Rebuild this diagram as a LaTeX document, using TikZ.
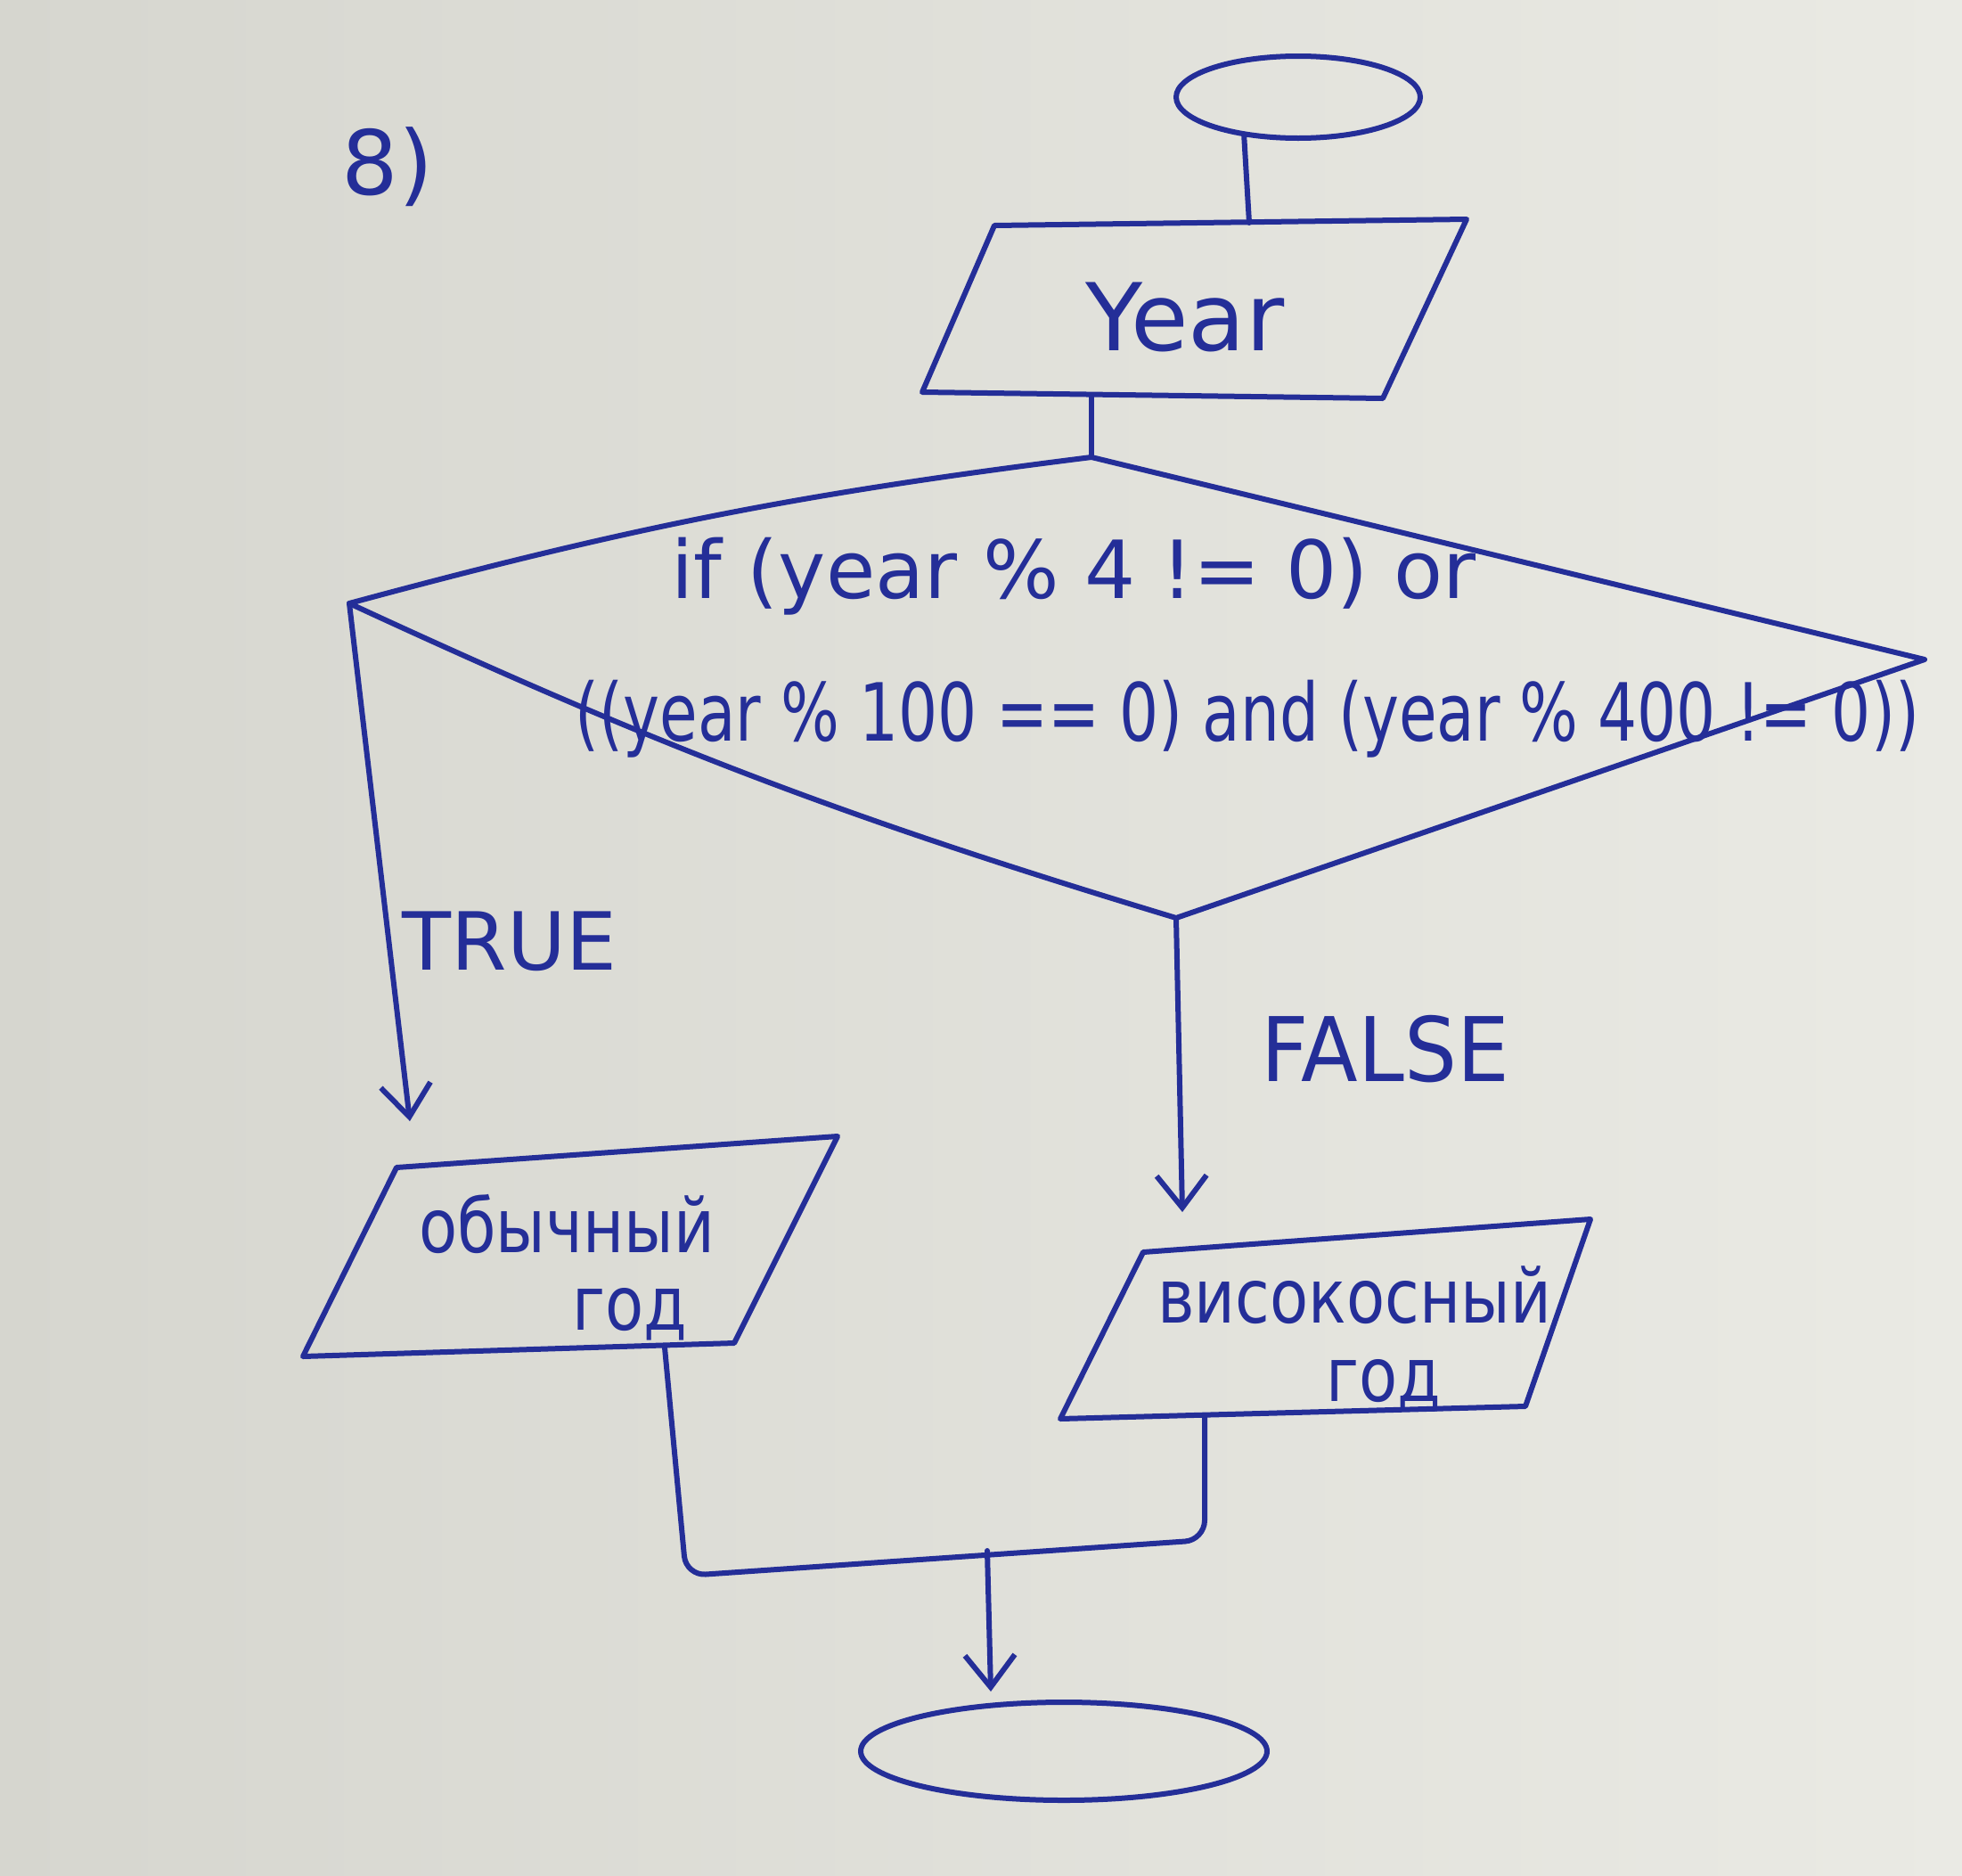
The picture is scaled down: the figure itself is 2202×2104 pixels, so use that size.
\documentclass[tikz,border=0pt]{standalone}
\usepackage{fontspec}
\setmainfont{DejaVu Sans}
\usetikzlibrary{arrows.meta,shapes.geometric}
\definecolor{ink}{RGB}{36,46,152}
\definecolor{paperL}{RGB}{214,214,207}
\definecolor{paperR}{RGB}{234,234,228}
\newcommand\hf[1]{\fontsize{#1}{#1}\selectfont}
\begin{document}
\begin{tikzpicture}[x=1pt,y=-1pt,
  line/.style={draw=ink,line width=6pt,line cap=round,line join=round},
  arr/.style={line,-{Straight Barb[length=36pt,width=56pt]}},
  txt/.style={text=ink,inner sep=0pt,anchor=base},
  term/.style={ellipse,draw=ink,line width=6pt,inner sep=0pt}]
\useasboundingbox (0,0) rectangle (2202,2104);
\shade[left color=paperL,right color=paperR] (0,0) rectangle (2202,2104);

% label of the task
\node[txt,font=\hf{100}] (num) at (435,218) {8)};

% terminals
\node[term,minimum width=274pt,minimum height=92pt] (start) at (1457,109) {};
\node[term,minimum width=456pt,minimum height=110pt] (stop) at (1194,1965) {};

% input Year
\coordinate (yTL) at (1116,253);
\coordinate (yTR) at (1646,246);
\coordinate (yBR) at (1552,447);
\coordinate (yBL) at (1035,440);
\draw[line] (yTL) -- (yTR) -- (yBR) -- (yBL) -- cycle;
\node[txt,font=\hf{105}] (year) at (1330,393) {Year};
\coordinate (yIn) at (1402,250);
\coordinate (yOut) at (1225,444);

% decision
\coordinate (dT) at (1225,513);
\coordinate (dR) at (2160,740);
\coordinate (dB) at (1320,1030);
\coordinate (dL) at (392,677);
\draw[line] (dL) to[bend left=4] (dT) -- (dR) -- (dB) to[bend left=4] (dL);
\node[txt,font=\hf{90}] (cond1) at (1205,671) {if (year \% 4 != 0) or};
\node[txt,font=\hf{90}] (cond2) at (1400,831) {\scalebox{0.77}[1]{((year \% 100 == 0) and (year \% 400 != 0))}};

% output ordinary
\coordinate (oTL) at (445,1310);
\coordinate (oTR) at (940,1275);
\coordinate (oBR) at (824,1507);
\coordinate (oBL) at (340,1522);
\draw[line] (oTL) -- (oTR) -- (oBR) -- (oBL) -- cycle;
\node[txt,font=\hf{84}] (ord1) at (636,1405) {\scalebox{0.84}[1]{обычный}};
\node[txt,font=\hf{84}] (ord2) at (707,1492) {\scalebox{0.84}[1]{год}};
\coordinate (ordIn) at (460,1258);
\coordinate (ordOut) at (746,1512);

% output leap
\coordinate (lTL) at (1283,1405);
\coordinate (lTR) at (1785,1368);
\coordinate (lBR) at (1712,1578);
\coordinate (lBL) at (1190,1592);
\draw[line] (lTL) -- (lTR) -- (lBR) -- (lBL) -- cycle;
\node[txt,font=\hf{84}] (leap1) at (1520,1484) {\scalebox{0.84}[1]{високосный}};
\node[txt,font=\hf{84}] (leap2) at (1553,1572) {\scalebox{0.84}[1]{год}};
\coordinate (leapIn) at (1327,1360);
\coordinate (leapOut) at (1352,1588);

% connectors
\draw[line] (start.216) -- (yIn);
\draw[line] (yOut) -- (dT);
\draw[arr] (dL) -- (ordIn);
\draw[arr] (dB) -- (leapIn);
\node[txt,font=\hf{90}] (true) at (572,1088) {TRUE};
\node[txt,font=\hf{100}] (false) at (1555,1213) {\scalebox{0.93}[1]{FALSE}};

\coordinate (jL) at (770,1768);
\coordinate (jR) at (1352,1728);
\coordinate (J) at (1108,1740);
\coordinate (endIn) at (1112,1898);
\draw[line,rounded corners=22pt] (ordOut) -- (jL) -- (jR) -- (leapOut);
\draw[arr] (J) -- (endIn);
\end{tikzpicture}
\end{document}
